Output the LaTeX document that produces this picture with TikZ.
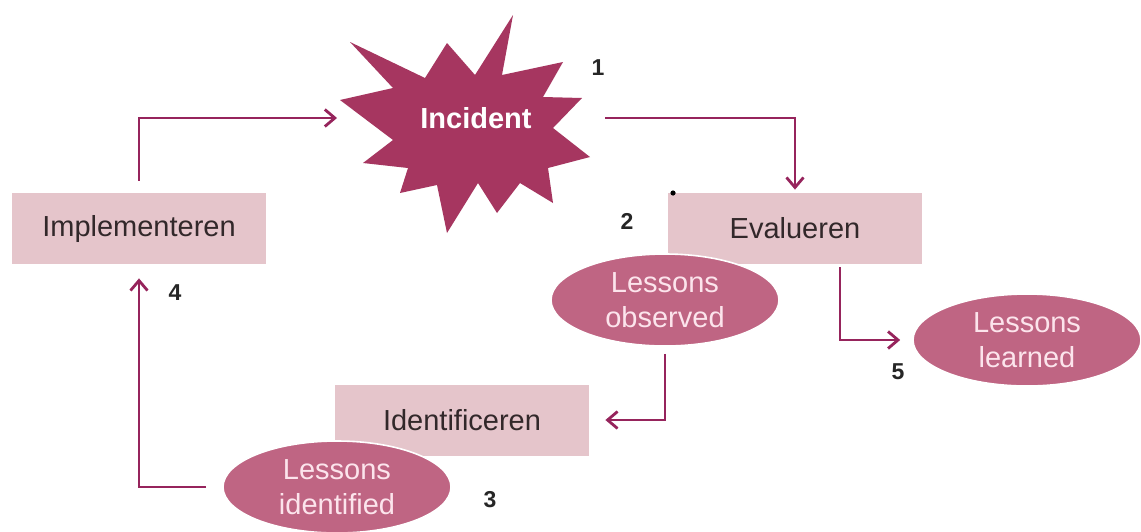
\documentclass[tikz,border=0pt]{standalone}
\usepackage{fontspec}
\setmainfont{Liberation Sans}
\usetikzlibrary{shapes.geometric,arrows.meta}
\definecolor{boxpink}{RGB}{229,197,203}
\definecolor{ellpink}{RGB}{191,101,131}
\definecolor{burst}{RGB}{166,54,96}
\definecolor{arrowc}{RGB}{150,36,92}
\definecolor{elltext}{RGB}{252,228,236}
\definecolor{boxtext}{RGB}{50,40,42}
\begin{document}
\begin{tikzpicture}[x=0.5pt,y=-0.5pt,
  stepbox/.style={rectangle, fill=boxpink, minimum width=127pt, minimum height=35.5pt, inner sep=0pt, font=\fontsize{14.5}{17}\selectfont, text=boxtext},
  lesson/.style={ellipse, fill=ellpink, draw=white, line width=0.8pt, minimum width=114pt, minimum height=46pt, inner sep=0pt, align=center, font=\fontsize{14.5}{17.5}\selectfont, text=elltext},
  num/.style={font=\bfseries\fontsize{11.5}{13}\selectfont, text=black!85, inner sep=0pt},
  arr/.style={draw=arrowc, line width=1.4pt, -{Straight Barb[length=5pt,width=8.5pt]}}]
\fill[white] (0,0) rectangle (1141,531);
\useasboundingbox (0,0) rectangle (1141,531);
% starburst
\fill[burst] (350,42) -- (425,78) -- (447,43) -- (475,75) -- (513,15) -- (502,75)
  -- (563,62) -- (543,97) -- (582,98) -- (553,128) -- (590,157) -- (548,168)
  -- (553,203) -- (520,183) -- (497,213) -- (478,183) -- (447,233) -- (437,185)
  -- (400,193) -- (408,168) -- (363,163) -- (393,140) -- (340,100) -- (393,88) -- cycle;
\node[font=\bfseries\fontsize{14.5}{17}\selectfont, text=white] (inc) at (476,118) {Incident};
\coordinate (incW) at (337,118);
\coordinate (incE) at (605,118);
% boxes
\node[stepbox] (impl) at (139,228.5) {Implementeren};
\node[stepbox] (eval) at (795,228.5) {Evalueren};
\node[stepbox] (ident) at (462,420) {Identificeren};
% ellipses
\node[lesson] (obs) at (665,300) {Lessons\\observed};
\node[lesson] (learned) at (1027,340) {Lessons\\learned};
\node[lesson] (lid) at (337,487) {Lessons\\identified};
% dot
\fill[black] (673,193) circle (1.3pt);
% numbers
\node[num] (n1) at (598,68) {1};
\node[num] (n2) at (627,221) {2};
\node[num] (n3) at (490,500) {3};
\node[num] (n4) at (175,293) {4};
\node[num] (n5) at (898,372) {5};
% arrows
\draw[arr, shorten <=6pt] (impl.north) |- (incW);
\draw[arr, shorten >=1.5pt] (incE) -| (eval.north);
\draw[arr, shorten <=1.5pt, shorten >=6pt] ([xshift=22.5pt]eval.south) |- (learned.west);
\draw[arr, shorten <=3.5pt, shorten >=8pt] (obs.south) |- (ident.east);
\draw[arr, shorten <=8pt, shorten >=7pt] (lid.west) -| (impl.south);
\end{tikzpicture}
\end{document}
